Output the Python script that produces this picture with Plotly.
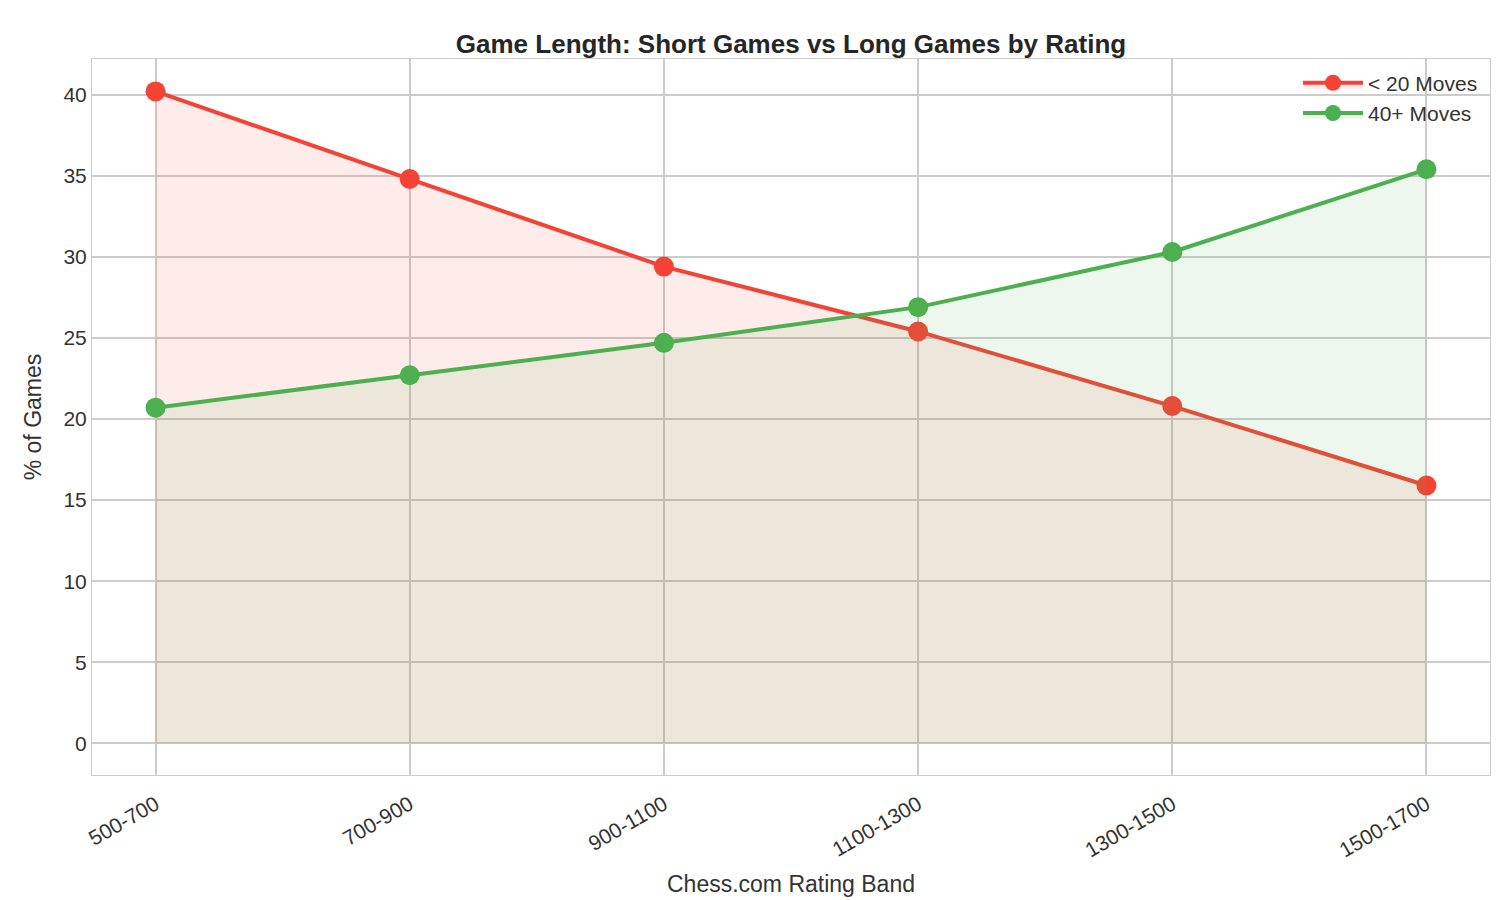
import plotly.graph_objects as go

bands = ["500-700", "700-900", "900-1100", "1100-1300", "1300-1500", "1500-1700"]
short_games = [40.2, 34.8, 29.4, 25.4, 20.8, 15.9]
long_games = [20.7, 22.7, 24.7, 26.9, 30.3, 35.4]

fig = go.Figure()
fig.add_trace(go.Scatter(x=list(range(len(bands))), y=short_games, name="< 20 Moves",
    mode="lines+markers", line=dict(color="#F44336", width=4),
    marker=dict(size=20, color="#F44336"), fill="tozeroy", fillcolor="rgba(244,67,54,0.1)"))
fig.add_trace(go.Scatter(x=list(range(len(bands))), y=long_games, name="40+ Moves",
    mode="lines+markers", line=dict(color="#4CAF50", width=4),
    marker=dict(size=20, color="#4CAF50"), fill="tozeroy", fillcolor="rgba(76,175,80,0.1)"))

fig.update_layout(
    width=1500, height=900, plot_bgcolor="white", paper_bgcolor="white",
    font=dict(family="Liberation Sans, Arial", size=21, color="#333"),
    title=dict(text="<b>Game Length: Short Games vs Long Games by Rating</b>", x=0.522, y=0.96,
               xanchor="center", yanchor="middle", font=dict(size=26, color="#262626")),
    margin=dict(l=84, r=18, t=51, b=133, autoexpand=False),
    legend=dict(x=0.995, y=0.995, xanchor="right", yanchor="top", bgcolor="rgba(0,0,0,0)",
                font=dict(size=21), itemwidth=60),
    xaxis=dict(tickmode="array", tickvals=list(range(len(bands))), ticktext=bands, tickangle=-30,
               range=[-0.25, 5.25], showgrid=True, gridcolor="#cccccc", gridwidth=1.5,
               showline=True, linecolor="#cccccc", mirror=True, zeroline=False,
               ticks="outside", ticklen=8, tickcolor="rgba(0,0,0,0)",
               title=dict(text="Chess.com Rating Band", font=dict(size=23))),
    yaxis=dict(range=[-1.95, 42.2], dtick=5, showgrid=True, gridcolor="#cccccc", gridwidth=1.5,
               showline=True, linecolor="#cccccc", mirror=True, zeroline=False,
               title=dict(text="% of Games", font=dict(size=23))),
)
fig.write_html("out.html")
